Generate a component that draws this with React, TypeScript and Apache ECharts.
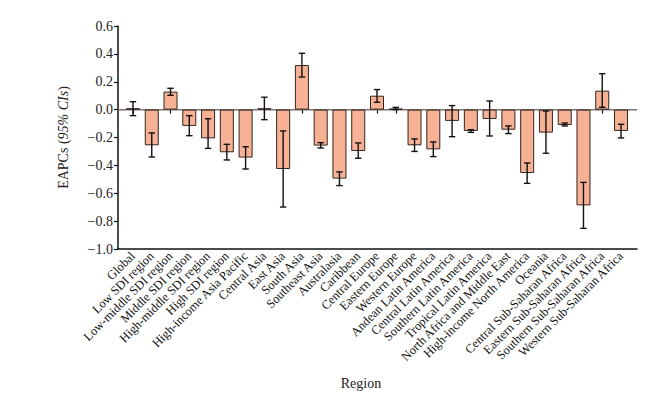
import React, { useEffect, useRef } from "react";
import * as echarts from "echarts";

const categories = [
  "Global", "Low SDI region", "Low-middle SDI region", "Middle SDI region",
  "High-middle SDI region", "High SDI region", "High-income Asia Pacific",
  "Central Asia", "East Asia", "South Asia", "Southeast Asia", "Australasia",
  "Caribbean", "Central Europe", "Eastern Europe", "Western Europe",
  "Andean Latin America", "Central Latin America", "Southern Latin America",
  "Tropical Latin America", "North Africa and Middle East",
  "High-income North America", "Oceania", "Central Sub-Saharan Africa",
  "Eastern Sub-Saharan Africa", "Southern Sub-Saharan Africa",
  "Western Sub-Saharan Africa",
];

const eapc = [
  0.01, -0.256, 0.129, -0.117, -0.206, -0.306, -0.344, 0.01, -0.426, 0.32,
  -0.258, -0.495, -0.297, 0.1, 0.007, -0.256, -0.285, -0.081, -0.153, -0.067,
  -0.144, -0.455, -0.165, -0.11, -0.687, 0.136, -0.153,
];

const ciLower = [
  -0.043, -0.34, 0.103, -0.187, -0.278, -0.361, -0.426, -0.072, -0.699, 0.234,
  -0.275, -0.545, -0.349, 0.053, 0.0, -0.3, -0.337, -0.194, -0.163, -0.189,
  -0.172, -0.529, -0.313, -0.117, -0.852, 0.017, -0.203,
];

const ciUpper = [
  0.057, -0.167, 0.153, -0.043, -0.065, -0.249, -0.266, 0.089, -0.153, 0.404,
  -0.237, -0.447, -0.239, 0.144, 0.016, -0.21, -0.232, 0.029, -0.144, 0.062,
  -0.117, -0.383, -0.01, -0.096, -0.522, 0.258, -0.105,
];

const FONT = "'Liberation Serif', 'Times New Roman', serif";

export default function App() {
  const ref = useRef<HTMLDivElement>(null);
  useEffect(() => {
    if (!ref.current) return;
    const chart = echarts.init(ref.current, null, { renderer: "svg" });
    const errData = categories.map((_, i) => [i, ciLower[i], ciUpper[i]]);
    chart.setOption({
      animation: false,
      textStyle: { fontFamily: FONT },
      grid: [
        { left: 118, right: 31, top: 26, bottom: 148 },
        { left: 123.6, right: 37.6, top: 26, bottom: 148 },
      ],
      xAxis: [
        {
          gridIndex: 0, type: "value", min: 0, max: 1,
          axisLine: { show: true, onZero: false, lineStyle: { color: "#111", width: 1.5 } },
          axisTick: { show: false }, axisLabel: { show: false }, splitLine: { show: false },
        },
        {
          gridIndex: 1, type: "category", data: categories, boundaryGap: true,
          axisLine: { show: false },
          axisTick: { show: true, alignWithLabel: true, length: 4, lineStyle: { color: "#111", width: 1.2 } },
          axisLabel: {
            rotate: 45, margin: 5, interval: 0, fontSize: 12.5, color: "#111", fontFamily: FONT,
          },
        },
      ],
      yAxis: [
        {
          gridIndex: 0, type: "value", min: -1.0, max: 0.6, interval: 0.2,
          axisLine: { show: true, lineStyle: { color: "#111", width: 1.5 } },
          axisTick: { show: true, length: 4, lineStyle: { color: "#111", width: 1.2 } },
          splitLine: { show: false },
          axisLabel: {
            margin: 5, fontSize: 14, color: "#222", fontFamily: FONT,
            formatter: (v: number) => v.toFixed(1).replace("-", "\u2212"),
          },
          name: "EAPCs ({i|95% CIs})",
          nameLocation: "middle",
          nameGap: 48,
          nameTextStyle: {
            fontSize: 14, color: "#222", fontFamily: FONT,
            rich: { i: { fontStyle: "italic", fontSize: 14, color: "#222", fontFamily: FONT } },
          },
        },
        {
          gridIndex: 1, type: "value", min: -1.0, max: 0.6, interval: 0.2, show: false,
          splitLine: { show: false },
        },
      ],
      series: [
        {
          type: "line", xAxisIndex: 0, yAxisIndex: 0, data: [[0, 0], [1, 0]],
          showSymbol: false, symbol: "none", silent: true, z: 1,
          lineStyle: { color: "#7d726c", width: 1.5 },
        },
        {
          type: "bar", xAxisIndex: 1, yAxisIndex: 1, data: eapc, barWidth: 14, z: 2,
          itemStyle: { color: "#F7B194", borderColor: "#33261f", borderWidth: 1 },
        },
        {
          type: "custom", xAxisIndex: 1, yAxisIndex: 1, data: errData, z: 3,
          renderItem: (params: any, api: any) => {
            const x = api.value(0);
            const lo = api.coord([x, api.value(1)]);
            const hi = api.coord([x, api.value(2)]);
            const cap = 3.2;
            const style = { stroke: "#111", lineWidth: 1.4 };
            return {
              type: "group",
              children: [
                { type: "line", shape: { x1: lo[0], y1: lo[1], x2: hi[0], y2: hi[1] }, style },
                { type: "line", shape: { x1: lo[0] - cap, y1: lo[1], x2: lo[0] + cap, y2: lo[1] }, style },
                { type: "line", shape: { x1: hi[0] - cap, y1: hi[1], x2: hi[0] + cap, y2: hi[1] }, style },
              ],
            };
          },
        },
      ],
      graphic: [
        {
          type: "text", x: 361, y: 383,
          style: {
            text: "Region", fontSize: 14, fill: "#222", fontFamily: FONT,
            align: "center", verticalAlign: "middle",
          },
        },
      ],
    });
    return () => chart.dispose();
  }, []);
  return (
    <div
      ref={ref}
      style={{ position: "absolute", left: 0, top: 0, width: 668, height: 397 }}
    />
  );
}
